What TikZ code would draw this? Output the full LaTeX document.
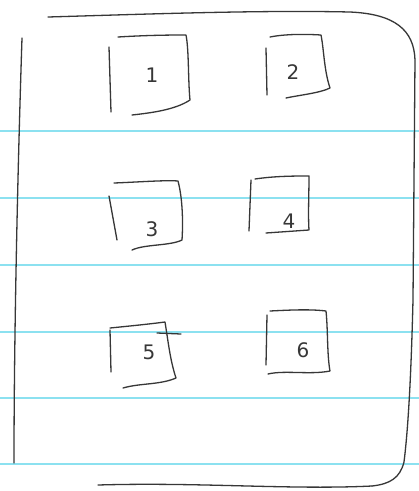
\documentclass[tikz,border=0pt]{standalone}
\usepackage{fontspec}
\setmainfont{DejaVu Sans}
\definecolor{rule}{RGB}{140,225,240}
\definecolor{pencil}{RGB}{55,55,55}
\begin{document}
\begin{tikzpicture}[x=1pt,y=-1pt,
  ruling/.style={draw=rule,line width=1.2pt},
  stroke/.style={draw=pencil,line width=1.3pt,line cap=round,line join=round},
  digit/.style={font=\fontsize{20}{20}\selectfont,text=pencil,inner sep=0pt}]
\useasboundingbox (0,0) rectangle (419,491);
\fill[white] (0,0) rectangle (419,491);
% ruled lines
\foreach \y in {131,198,265,332,398,464}
  \draw[ruling] (0,\y) -- (419,\y);
% outer frame
\draw[stroke] (48,17) .. controls (150,14) and (260,10) .. (350,12)
  .. controls (395,14) and (414,30) .. (415,60)
  -- (413,300) .. controls (411,380) and (408,430) .. (404,462)
  .. controls (400,478) and (390,484) .. (372,486);
\draw[stroke] (98,485) .. controls (200,482) and (290,490) .. (372,486);
\draw[stroke] (22,38) .. controls (18,160) and (14,330) .. (14,463);
% box 1
\draw[stroke] (109,47) -- (111,112);
\draw[stroke] (118,37) .. controls (150,35) and (175,35) .. (186,35) .. controls (189,50) and (188,80) .. (190,100) .. controls (175,110) and (150,113) .. (132,115);
\node[digit] (n1) at (152,75) {1};
% box 2
\draw[stroke] (266,48) -- (267,95);
\draw[stroke] (270,37) .. controls (285,34) and (305,34) .. (321,35) .. controls (324,50) and (324,70) .. (330,88) .. controls (320,93) and (300,95) .. (286,98);
\node[digit] (n2) at (293,72) {2};
% box 3
\draw[stroke] (109,196) -- (117,240);
\draw[stroke] (114,183) .. controls (140,182) and (165,180) .. (178,181) .. controls (183,200) and (183,225) .. (182,240) .. controls (170,246) and (145,244) .. (132,250);
\node[digit] (n3) at (152,229) {3};
% box 4
\draw[stroke] (251,180) -- (249,231);
\draw[stroke] (255,179) .. controls (275,176) and (295,176) .. (309,176) .. controls (309,195) and (308,215) .. (309,230) -- (266,233);
\node[digit] (n4) at (289,221) {4};
% box 5
\draw[stroke] (110,330) -- (111,372);
\draw[stroke] (110,328) .. controls (130,326) and (150,324) .. (165,322) .. controls (168,340) and (170,360) .. (176,378) .. controls (160,385) and (140,383) .. (123,388);
\draw[stroke] (157,333) -- (181,334);
\node[digit] (n5) at (149,352) {5};
% box 6
\draw[stroke] (267,315) -- (266,365);
\draw[stroke] (270,311) .. controls (290,310) and (310,309) .. (326,311) .. controls (328,330) and (327,355) .. (330,371) .. controls (310,375) and (285,370) .. (268,374);
\node[digit] (n6) at (303,350) {6};
\end{tikzpicture}
\end{document}
